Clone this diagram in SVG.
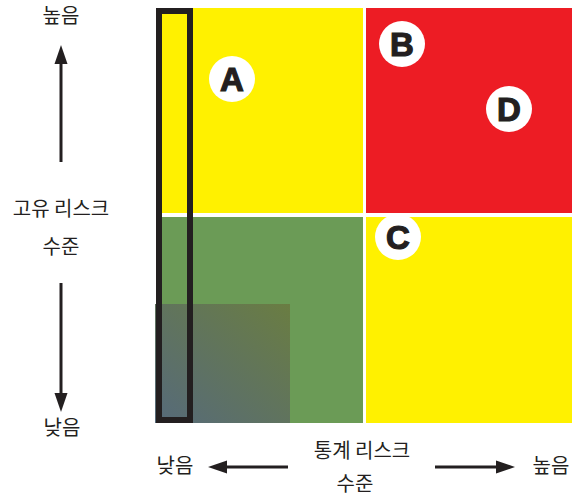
<svg xmlns="http://www.w3.org/2000/svg" width="572" height="498" viewBox="0 0 572 498">
<style>
.t{font-family:"Noto Sans CJK KR","Noto Sans",sans-serif;font-size:20px;fill:#231f20;text-anchor:middle}
.l{font-family:"Liberation Sans",Arial,sans-serif;font-weight:bold;font-size:33px;fill:#231f20;stroke:#231f20;stroke-width:1.2;text-anchor:middle}
.c{fill:#fff}
.ax{stroke:#231f20;stroke-width:3;fill:none}
</style>
<defs>
<linearGradient id="g" x1="0" y1="1" x2="1" y2="0">
<stop offset="0" stop-color="#566a7a"/>
<stop offset="1" stop-color="#6a7d42"/>
</linearGradient>
</defs>
<g id="quadrants">
<rect x="157" y="8" width="206" height="205" fill="#fff100"/>
<rect x="366" y="8" width="206" height="205" fill="#ed1c24"/>
<rect x="157" y="217" width="206" height="206" fill="#6b9b56"/>
<rect x="366" y="217" width="206" height="206" fill="#fff100"/>
<rect x="155" y="304" width="135" height="119" fill="url(#g)"/>
</g>
<g id="highlight">
<rect x="159" y="11" width="31" height="409" fill="none" stroke="#231f20" stroke-width="6"/>
</g>
<g id="nodeA"><circle class="c" cx="232" cy="79" r="23"/><text class="l" x="232" y="91">A</text></g>
<g id="nodeB"><circle class="c" cx="402" cy="44" r="23"/><text class="l" x="402" y="56">B</text></g>
<g id="nodeC"><circle class="c" cx="398" cy="237" r="23"/><text class="l" x="398" y="249">C</text></g>
<g id="nodeD"><circle class="c" cx="509" cy="109" r="23"/><text class="l" x="509" y="121">D</text></g>
<g id="connectors">
<line x1="61" y1="162" x2="61" y2="64" class="ax"/>
<path d="M61,45L54.5,64L67.5,64Z" fill="#231f20"/>
<line x1="61" y1="283" x2="61" y2="393" class="ax"/>
<path d="M61,412L54.5,393L67.5,393Z" fill="#231f20"/>
<line x1="288" y1="467" x2="226" y2="467" class="ax"/>
<path d="M208,467L227,460.5L227,473.5Z" fill="#231f20"/>
<line x1="435" y1="467" x2="497" y2="467" class="ax"/>
<path d="M515,467L496,460.5L496,473.5Z" fill="#231f20"/>
</g>
<g id="labels">
<text class="t" x="61" y="23">높음</text>
<text class="t" x="61" y="216">고유 리스크</text>
<text class="t" x="61" y="254">수준</text>
<text class="t" x="62" y="435">낮음</text>
<text class="t" x="362" y="458">통계 리스크</text>
<text class="t" x="355" y="491">수준</text>
<text class="t" x="175" y="473">낮음</text>
<text class="t" x="551" y="473">높음</text>
</g>
</svg>
